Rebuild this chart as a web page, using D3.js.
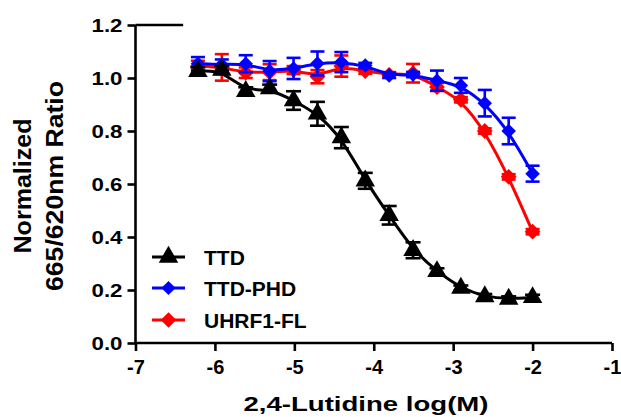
<!DOCTYPE html>
<html><head><meta charset="utf-8">
<script src="https://cdn.jsdelivr.net/npm/d3@7"></script>
<style>body{margin:0;background:#fff}</style>
</head><body>
<svg id="c" width="621" height="417"></svg>
<script>
// log(M) concentrations (2-fold dilution series)
const concLog = [-6.214,-5.913,-5.612,-5.311,-5.010,-4.709,-4.408,-4.107,-3.806,-3.505,-3.204,-2.903,-2.602,-2.301,-2.0];
const ttdVals = [1.025,1.03,0.95,0.96,0.915,0.865,0.775,0.612,0.482,0.35,0.27,0.207,0.175,0.166,0.172];
const ttdErr  = [0.015,0.015,0.015,0.015,0.035,0.045,0.04,0.03,0.035,0.03,0.012,0.01,0.01,0.01,0.01];
const phdVals = [1.054,1.05,1.054,1.026,1.036,1.055,1.06,1.047,1.01,1.013,0.99,0.972,0.905,0.80,0.639];
const phdErr  = [0.025,0.02,0.032,0.038,0.04,0.045,0.038,0.01,0.01,0.01,0.038,0.028,0.05,0.05,0.03];
const flVals  = [1.045,1.04,1.02,1.022,1.03,1.005,1.045,1.026,1.012,1.018,0.966,0.918,0.80,0.627,0.42];
const flErr   = [0.02,0.05,0.02,0.03,0.015,0.025,0.04,0.01,0.01,0.035,0.015,0.01,0.01,0.01,0.01];
const seriesNames = ["TTD","TTD-PHD","UHRF1-FL"];
const xTickVals = [-7,-6,-5,-4,-3,-2,-1];
const xTickLabels = ["-7","-6","-5","-4","-3","-2","-1"];
const yTickVals = [0,0.2,0.4,0.6,0.8,1.0,1.2];
const yTickLabels = ["0.0","0.2","0.4","0.6","0.8","1.0","1.2"];

const FONT = "'Liberation Sans', Arial, Helvetica, sans-serif";
const svg = d3.select("#c");
const x = d3.scaleLinear().domain([-7,-1]).range([135.5,612]);
const y = d3.scaleLinear().domain([0,1.2]).range([343,25]);

// axes
const yAxis = svg.append("g").attr("transform","translate(135.5,0)")
  .call(d3.axisLeft(y).tickValues(yTickVals).tickSize(8).tickPadding(5)
    .tickFormat((d,i)=>yTickLabels[i]));
const xAxis = svg.append("g").attr("transform","translate(0,343)")
  .call(d3.axisBottom(x).tickValues(xTickVals).tickSize(8).tickPadding(9)
    .tickFormat((d,i)=>xTickLabels[i]));
[yAxis,xAxis].forEach(g=>{
  g.select(".domain").attr("stroke","#000").attr("stroke-width",2.6);
  g.selectAll(".tick line").attr("stroke","#000").attr("stroke-width",2.6);
  g.selectAll("text").attr("fill","#000").style("font-family",FONT)
    .style("font-weight","bold").style("font-size","19px");
});
yAxis.selectAll(".tick text").attr("textLength",31).attr("lengthAdjust","spacingAndGlyphs");
xAxis.selectAll(".tick text").style("font-size","20px");
yAxis.select(".domain").attr("d","M0,25V343");
xAxis.select(".domain").attr("d","M135.5,0H612");
// short top line at 1.2
svg.append("line").attr("x1",x(-7)).attr("x2",x(-6.4)).attr("y1",y(1.2)).attr("y2",y(1.2))
  .attr("stroke","#000").attr("stroke-width",2.6);

// titles
svg.append("text").attr("x",366).attr("y",411).attr("text-anchor","middle")
  .attr("textLength",245).attr("lengthAdjust","spacingAndGlyphs")
  .style("font-family",FONT).style("font-weight","bold").style("font-size","20px")
  .text("2,4-Lutidine log(M)");
const yt = svg.append("text").attr("transform","translate(0,186) rotate(-90)")
  .attr("text-anchor","middle").style("font-family",FONT).style("font-weight","bold").style("font-size","24px");
yt.append("tspan").attr("x",0).attr("y",31).attr("textLength",135).attr("lengthAdjust","spacingAndGlyphs").text("Normalized");
yt.append("tspan").attr("x",0).attr("y",63).attr("textLength",210).attr("lengthAdjust","spacingAndGlyphs").text("665/620nm Ratio");

function marker(sel, shape, size){
  if (shape === "diamond") {
    sel.attr("d", d3.symbol().type(d3.symbolSquare).size(size)())
       .attr("transform", function(){ return this.getAttribute("data-t") + " rotate(45)"; });
  } else {
    sel.attr("d", d3.symbol().type(d3.symbolTriangle).size(size)());
  }
}
function series(vals, errs, color, shape, size, capW){
  const data = concLog.map((c,i)=>({c, v:vals[i], e:errs[i]}));
  const g = svg.append("g");
  g.append("path").datum(data)
    .attr("d", d3.line().x(d=>x(d.c)).y(d=>y(d.v)).curve(d3.curveBasis))
    .attr("fill","none").attr("stroke",color).attr("stroke-width",3);
  const eb = g.selectAll(".eb").data(data).join("g");
  eb.append("line").attr("x1",d=>x(d.c)).attr("x2",d=>x(d.c))
    .attr("y1",d=>y(d.v+d.e)).attr("y2",d=>y(d.v-d.e)).attr("stroke",color).attr("stroke-width",2.6);
  eb.append("line").attr("x1",d=>x(d.c)-capW/2).attr("x2",d=>x(d.c)+capW/2)
    .attr("y1",d=>y(d.v+d.e)).attr("y2",d=>y(d.v+d.e)).attr("stroke",color).attr("stroke-width",2.6);
  eb.append("line").attr("x1",d=>x(d.c)-capW/2).attr("x2",d=>x(d.c)+capW/2)
    .attr("y1",d=>y(d.v-d.e)).attr("y2",d=>y(d.v-d.e)).attr("stroke",color).attr("stroke-width",2.6);
  const m = g.selectAll(".m").data(data).join("path")
    .attr("data-t",d=>`translate(${x(d.c)},${y(d.v)})`)
    .attr("transform",d=>`translate(${x(d.c)},${y(d.v)})`).attr("fill",color);
  marker(m, shape, size);
}
series(flVals, flErr, "#ff0000", "diamond", 125, 14);
series(phdVals, phdErr, "#0000ff", "diamond", 105, 14);
series(ttdVals, ttdErr, "#000000", "triangle", 165, 15);

// legend
const legColors = ["#000000","#0000ff","#ff0000"];
const legShapes = ["triangle","diamond","diamond"];
const legSizes = [165, 100, 120];
const legY = [257, 288, 320];
seriesNames.forEach((n,i)=>{
  svg.append("line").attr("x1",152).attr("x2",185).attr("y1",legY[i]).attr("y2",legY[i])
    .attr("stroke",legColors[i]).attr("stroke-width",3);
  const p = svg.append("path").attr("data-t",`translate(168.5,${legY[i]})`)
    .attr("transform",`translate(168.5,${legY[i]})`).attr("fill",legColors[i]);
  marker(p, legShapes[i], legSizes[i]);
  svg.append("text").attr("x",204).attr("y",legY[i]+7.5)
    .style("font-family",FONT).style("font-weight","bold").style("font-size","21px").text(n);
});
</script>
</body></html>
